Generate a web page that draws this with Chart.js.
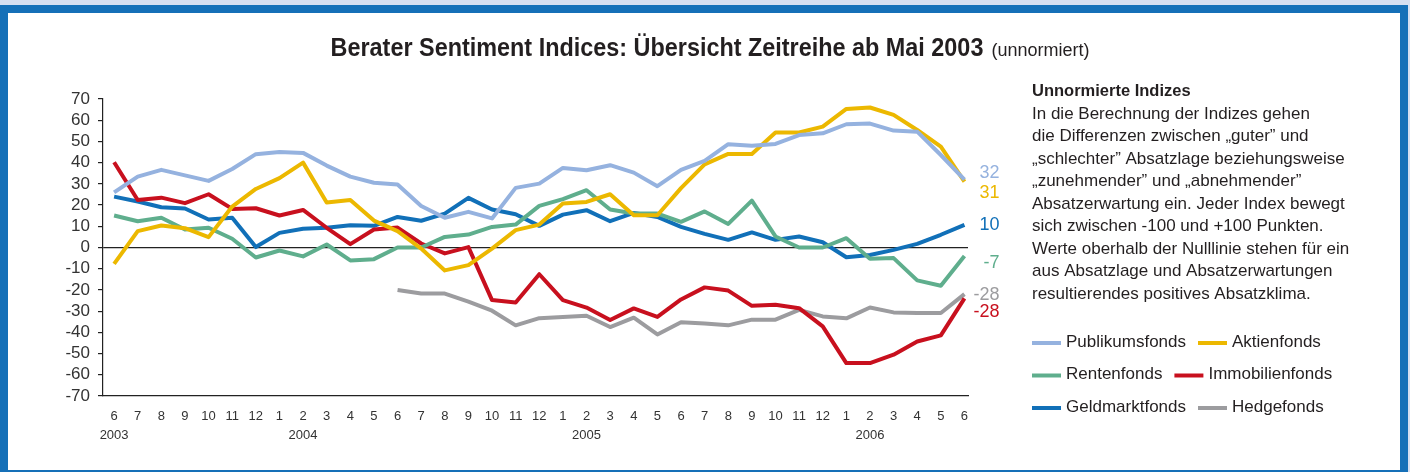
<!DOCTYPE html>
<html lang="de">
<head>
<meta charset="UTF-8">
<title>Berater Sentiment Indices</title>
<script src="https://cdn.jsdelivr.net/npm/chart.js"></script>
<style>
    html, body { margin: 0; padding: 0; width: 1410px; height: 472px; overflow: hidden; background: #d6dff0; }
    .frame { position: absolute; left: 0; top: 5px; width: 1392px; height: 457px; border: 8px solid #1570b8; background: #fff; }
    #chart { position: absolute; left: 0; top: 0; }
</style>
</head>
<body>
<div class="frame"></div>
<canvas id="chart" width="1410" height="472"></canvas>
<script>
    // x axis: monthly, 6/2003 .. 6/2006
    const months = ['6','7','8','9','10','11','12',
        '1','2','3','4','5','6','7','8','9','10','11','12',
        '1','2','3','4','5','6','7','8','9','10','11','12',
        '1','2','3','4','5','6'];
    const years = ['2003','','','','','','','','2004','','','','','','','','','','','',
        '2005','','','','','','','','','','','','2006','','','',''];

    const publikumsfonds = [26, 33.4, 36.6, 34, 31.4, 37, 44, 45, 44.6, 38.6, 33.4, 30.5,
        29.7, 19.6, 14, 16.8, 13.7, 28.1, 30.1, 37.5, 36.4, 38.8, 35.3, 28.9,
        36.6, 40.8, 48.7, 48, 48.8, 53, 53.8, 58.1, 58.4, 55.1, 54.6, 43.6, 32];
    const aktienfonds = [-7.7, 7.7, 10.4, 9.1, 4.9, 19.3, 27.6, 32.7, 40, 21.2, 22.4, 12.7,
        7.7, -0.5, -10.8, -8.3, -0.5, 8.2, 10.8, 20.7, 21.5, 25.1, 15.2, 15.2,
        28, 39.2, 44.1, 44.1, 54.2, 54.2, 57, 65.3, 66, 62.5, 55.4, 47.6, 31];
    const rentenfonds = [15.1, 12.4, 14, 8.5, 9.3, 4.1, -4.7, -1.4, -4.2, 1.4, -6.1, -5.5,
        0, 0, 5, 6.1, 9.7, 10.8, 19.6, 22.8, 27, 17.9, 16, 16,
        12.1, 17, 11.1, 22.1, 5.2, 0, 0, 4.4, -5.3, -5, -15.5, -18, -4];
    const immobilienfonds = [40.2, 22.4, 23.5, 20.9, 25.1, 18.2, 18.5, 15.1, 17.7, 9.3, 1.6, 8.5,
        9.4, 1.9, -2.8, 0.2, -24.8, -25.9, -12.6, -24.8, -28.3, -34.2, -28.7, -32.7,
        -24.5, -18.8, -20.3, -27.5, -27, -28.6, -37.2, -54.5, -54.5, -50.5, -44.3, -41.4, -24];
    const geldmarktfonds = [24, 21.7, 19, 18.4, 13.2, 14, 0.2, 6.9, 8.8, 9.3, 10.5, 10.2,
        14.4, 12.6, 16, 23.4, 17.9, 15.7, 10.2, 15.5, 17.6, 12.4, 16.3, 14.4,
        9.7, 6.4, 3.6, 7.1, 3.6, 5.2, 2.5, -4.6, -3.5, -1.1, 1.7, 6, 10.7];
    const hedgefonds = [null, null, null, null, null, null, null, null, null, null, null, null,
        -20, -21.7, -21.7, -25.5, -29.8, -36.7, -33.3, -32.8, -32.2, -37.5, -33.1, -41,
        -35.2, -35.8, -36.7, -34, -34, -29.4, -32.5, -33.4, -28.3, -30.6, -30.9, -30.9, -22];

    const seriesNames = ['Publikumsfonds', 'Aktienfonds', 'Rentenfonds', 'Immobilienfonds', 'Geldmarktfonds', 'Hedgefonds'];
    const seriesValues = [publikumsfonds, aktienfonds, rentenfonds, immobilienfonds, geldmarktfonds, hedgefonds];
    const seriesColors = ['#95b2df', '#ecb800', '#5fae8d', '#c8101e', '#1170b8', '#9c9c9f'];
    const endLabels = ['32', '31', '-7', '-28', '10', '-28'];
    const endLabelNudge = [-7, 11, 7, 14, 0, 1];

    const infoTitle = 'Unnormierte Indizes';
    const infoLines = [
        'In die Berechnung der Indizes gehen',
        'die Differenzen zwischen \u201Eguter\u201D und',
        '\u201Eschlechter\u201D Absatzlage beziehungsweise',
        '\u201Ezunehmender\u201D und \u201Eabnehmender\u201D',
        'Absatzerwartung ein. Jeder Index bewegt',
        'sich zwischen -100 und +100 Punkten.',
        'Werte oberhalb der Nulllinie stehen f\u00FCr ein',
        'aus Absatzlage und Absatzerwartungen',
        'resultierendes positives Absatzklima.'
    ];

    const FONT = '"Liberation Sans", Arial, sans-serif';

    const decor = {
        id: 'decor',
        afterDraw(chart) {
            const c = chart.ctx;
            c.save();

            // title (bold part squeezed to look condensed)
            const t1 = 'Berater Sentiment Indices: \u00DCbersicht Zeitreihe ab Mai 2003';
            const t2 = '(unnormiert)';
            const squeeze = 0.9;
            c.textBaseline = 'alphabetic';
            c.textAlign = 'left';
            c.fillStyle = '#231f20';
            c.font = 'bold 26px ' + FONT;
            const w1 = c.measureText(t1).width * squeeze;
            c.font = '18px ' + FONT;
            const w2 = c.measureText(t2).width;
            const tx = 710 - (w1 + 8 + w2) / 2;
            c.save();
            c.translate(tx, 56);
            c.scale(squeeze, 1);
            c.font = 'bold 26px ' + FONT;
            c.fillText(t1, 0, 0);
            c.restore();
            c.font = '18px ' + FONT;
            c.fillText(t2, tx + w1 + 8, 56);

            // info text
            c.textBaseline = 'middle';
            c.font = 'bold 16.5px ' + FONT;
            c.fillText(infoTitle, 1032, 91);
            c.font = '17px ' + FONT;
            infoLines.forEach((line, i) => c.fillText(line, 1032, 114 + i * 22.5));

            // legend, two per row
            c.font = '17px ' + FONT;
            const ds = chart.data.datasets;
            for (let r = 0; r < 3; r++) {
                const y = 342 + r * 32.5;
                let x = 1032;
                for (let k = 0; k < 2; k++) {
                    const d = ds[r * 2 + k];
                    c.strokeStyle = d.borderColor;
                    c.lineWidth = 4;
                    c.beginPath();
                    c.moveTo(x, y + 1);
                    c.lineTo(x + 29, y + 1);
                    c.stroke();
                    c.fillStyle = '#231f20';
                    c.fillText(d.label, x + 34, y);
                    x = x + 34 + c.measureText(d.label).width + 12;
                }
            }

            // end labels
            c.font = '18px ' + FONT;
            c.textAlign = 'right';
            ds.forEach((d, i) => {
                const meta = chart.getDatasetMeta(i);
                const pt = meta.data[meta.data.length - 1];
                c.fillStyle = d.borderColor;
                c.fillText(endLabels[i], pt.x + 35, pt.y + endLabelNudge[i]);
            });
            c.restore();
        }
    };

    new Chart(document.getElementById('chart').getContext('2d'), {
        type: 'line',
        data: {
            datasets: seriesNames.map((name, s) => ({
                label: name,
                data: seriesValues[s].map((v, i) => ({ x: i, y: v })),
                borderColor: seriesColors[s],
                borderWidth: 4,
                borderJoinStyle: 'round',
                pointRadius: 0,
                tension: 0,
                fill: false
            }))
        },
        options: {
            responsive: false,
            animation: false,
            layout: { padding: { left: 63, right: 442, top: 99, bottom: 16 } },
            plugins: { legend: { display: false }, tooltip: { enabled: false } },
            scales: {
                x: {
                    type: 'linear',
                    min: -0.47,
                    max: 36.15,
                    afterBuildTicks: s => { s.ticks = months.map((m, i) => ({ value: i })); },
                    afterFit: s => { s.height = 60; },
                    ticks: {
                        autoSkip: false,
                        maxRotation: 0,
                        padding: 11,
                        color: '#333',
                        font: { size: 13, family: FONT, lineHeight: 1.45 },
                        callback: v => [months[v], years[v]]
                    },
                    grid: { display: false, drawTicks: false },
                    border: { display: true, color: '#222', width: 1.2 }
                },
                y: {
                    min: -70,
                    max: 70,
                    afterFit: s => { s.width = 40; },
                    ticks: { stepSize: 10, autoSkip: false, padding: 8, color: '#333', font: { size: 17, family: FONT } },
                    grid: {
                        color: c => (c.tick && c.tick.value === 0 ? '#222' : 'rgba(0,0,0,0)'),
                        tickColor: '#222',
                        tickLength: 5,
                        lineWidth: 1.2
                    },
                    border: { display: true, color: '#222', width: 1.2 }
                }
            }
        },
        plugins: [decor]
    });
</script>
</body>
</html>
